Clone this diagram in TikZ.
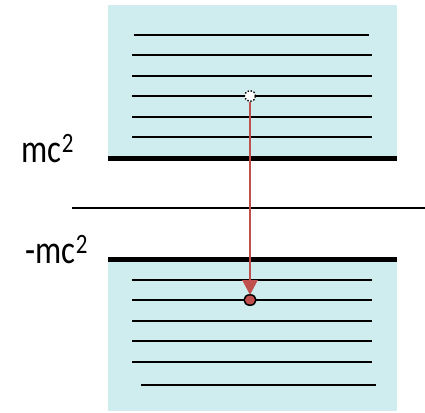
\documentclass[tikz,border=0pt]{standalone}
\usepackage{fontspec}
\setmainfont{Carlito}
\usetikzlibrary{shapes.geometric,arrows.meta}
\definecolor{bandfill}{RGB}{207,237,238}
\definecolor{arrred}{RGB}{192,80,77}
\newcommand{\lbltext}[1]{\scalebox{0.82}[1]{#1\textsuperscript{2}}}
\begin{document}
\begin{tikzpicture}[x=1pt,y=-1pt,
  band/.style={fill=bandfill,draw=none},
  level/.style={line width=1.6pt,black},
  edge/.style={line width=5pt,black},
  lbl/.style={font=\fontsize{40}{42}\selectfont,anchor=base east,inner sep=0pt}]
\useasboundingbox (0,0) rectangle (425,412);
\fill[band] (108,5) rectangle (397,158);
\fill[band] (108,259) rectangle (397,411);
% upper levels
\draw[level] (134,35) -- (369,35);
\foreach \y in {55,76,96,117,137} \draw[level] (132,\y) -- (372,\y);
\draw[edge] (108,158) -- (397,158);
% middle
\draw[line width=1.2pt] (72,208) -- (425,208);
% lower
\draw[edge] (108,259) -- (397,259);
\foreach \y in {280,300,321,341,362} \draw[level] (132,\y) -- (372,\y);
\draw[level] (141,385) -- (376,385);
% labels
\node[lbl] (mc) at (74,162) {\lbltext{mc}};
\node[lbl] (mmc) at (88,263) {\lbltext{-mc}};
% particles
\node[circle,draw=black,dash pattern=on 1.4pt off 1.8pt,line width=1.4pt,fill=white,minimum size=11pt,inner sep=0pt] (hole) at (250,96) {};
\node[ellipse,draw=black,line width=1.5pt,fill=arrred,minimum width=12pt,minimum height=10.5pt,inner sep=0pt] (el) at (250,300) {};
\draw[arrred,line width=2.8pt,-{Triangle[length=15pt,width=15pt]},shorten >=-1pt] (hole.south) -- (el.north);
\end{tikzpicture}
\end{document}
